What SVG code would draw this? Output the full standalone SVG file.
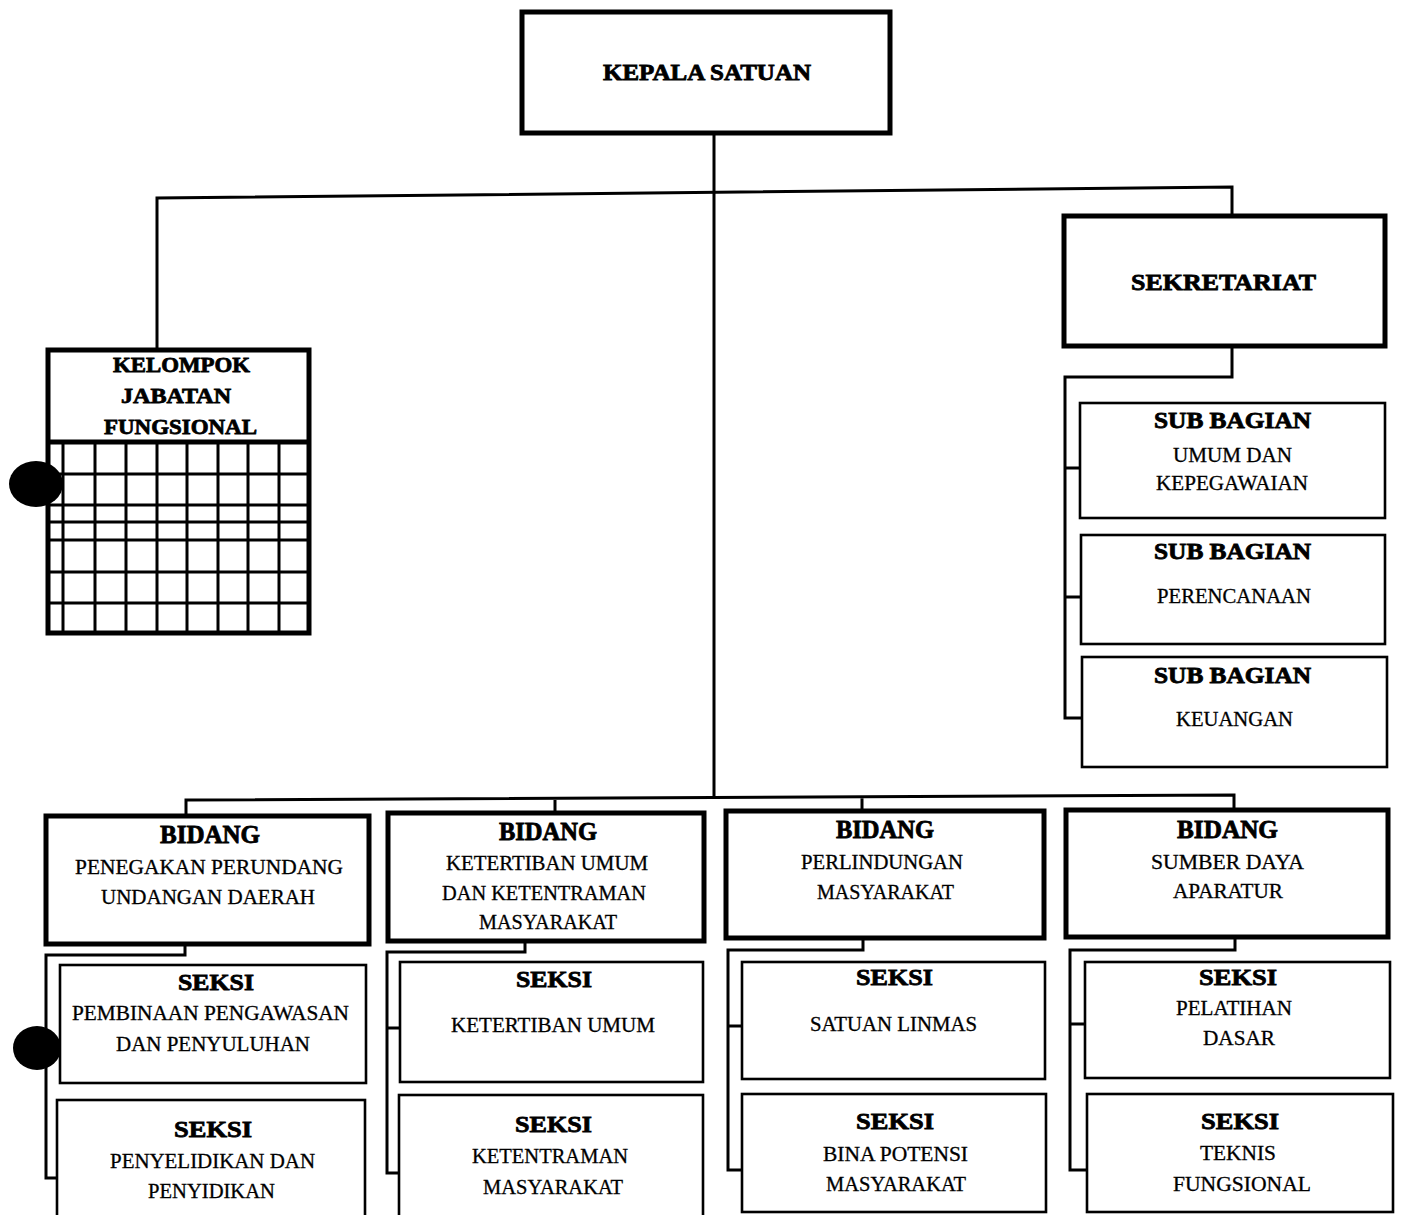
<svg xmlns="http://www.w3.org/2000/svg" width="1401" height="1215" viewBox="0 0 1401 1215">
<style>
.thick{fill:#fff;stroke:#000;stroke-width:5}
.thin{fill:#fff;stroke:#000;stroke-width:2.6}
.ln{fill:none;stroke:#000;stroke-width:3}
.grid{fill:none;stroke:#000;stroke-width:3}
.h{font-family:"Liberation Serif",serif;font-weight:900;fill:#000;stroke:#000;stroke-width:0.8}
.b{font-family:"Liberation Serif",serif;fill:#000;stroke:#000;stroke-width:0.3}
</style>
<rect width="1401" height="1215" fill="#fff"/>
<g id="connectors">
<path class="ln" d="M714 134 V797"/>
<path class="ln" d="M157 349 V198 L1232 187 V216"/>
<path class="ln" d="M1232 346 V377 H1065 V718 H1082 M1065 468 H1080 M1065 597 H1081"/>
<path class="ln" d="M186 817 V800 L1234 795 V810 M555 798 V812 M862 796 V810"/>
<path class="ln" d="M185 945 V955 H46 V1178 H57 M46 1047 H60"/>
<path class="ln" d="M525 942 V952 H387 V1173 H399 M387 1028 H400"/>
<path class="ln" d="M863 938 V950 H728 V1170 H742 M728 1026 H742"/>
<path class="ln" d="M1235 938 V950 H1070 V1170 H1087 M1070 1024 H1085"/>
</g>
<g id="kepala">
<rect class="thick" x="522" y="12" width="368" height="121"/>
<text class="h" x="603" y="80" font-size="23" textLength="208" lengthAdjust="spacingAndGlyphs">KEPALA SATUAN</text>
</g>
<g id="sekretariat">
<rect class="thick" x="1064" y="216" width="321" height="130"/>
<text class="h" x="1131" y="290" font-size="24" textLength="185" lengthAdjust="spacingAndGlyphs">SEKRETARIAT</text>
</g>
<g id="kelompok">
<rect class="thick" x="48" y="350" width="261" height="283"/>
<path d="M48 442 H309" stroke="#000" stroke-width="5"/>
<path class="grid" d="M63 442 V633 M95 442 V633 M126 442 V633 M157 442 V633 M187 442 V633 M218 442 V633 M248 442 V633 M279 442 V633 M48 474 H309 M48 505 H309 M48 522 H309 M48 540 H309 M48 572 H309 M48 603 H309"/>
<text class="h" x="113" y="372" font-size="22" textLength="137" lengthAdjust="spacingAndGlyphs">KELOMPOK</text>
<text class="h" x="121" y="403" font-size="22" textLength="110" lengthAdjust="spacingAndGlyphs">JABATAN</text>
<text class="h" x="104" y="434" font-size="22" textLength="153" lengthAdjust="spacingAndGlyphs">FUNGSIONAL</text>
</g>
<g id="sub-umum">
<rect class="thin" x="1080" y="403" width="305" height="115"/>
<text class="h" x="1154" y="428" font-size="23" textLength="157" lengthAdjust="spacingAndGlyphs">SUB BAGIAN</text>
<text class="b" x="1173" y="462" font-size="20" textLength="119" lengthAdjust="spacingAndGlyphs">UMUM DAN</text>
<text class="b" x="1156" y="490" font-size="20" textLength="152" lengthAdjust="spacingAndGlyphs">KEPEGAWAIAN</text>
</g>
<g id="sub-perencanaan">
<rect class="thin" x="1081" y="535" width="304" height="109"/>
<text class="h" x="1154" y="559" font-size="23" textLength="157" lengthAdjust="spacingAndGlyphs">SUB BAGIAN</text>
<text class="b" x="1157" y="603" font-size="20" textLength="154" lengthAdjust="spacingAndGlyphs">PERENCANAAN</text>
</g>
<g id="sub-keuangan">
<rect class="thin" x="1082" y="657" width="305" height="110"/>
<text class="h" x="1154" y="683" font-size="23" textLength="157" lengthAdjust="spacingAndGlyphs">SUB BAGIAN</text>
<text class="b" x="1176" y="726" font-size="20" textLength="117" lengthAdjust="spacingAndGlyphs">KEUANGAN</text>
</g>
<g id="bidang-1">
<rect class="thick" x="46" y="816" width="323" height="128"/>
<text class="h" x="160" y="843" font-size="25" textLength="100" lengthAdjust="spacingAndGlyphs">BIDANG</text>
<text class="b" x="75" y="874" font-size="20" textLength="268" lengthAdjust="spacingAndGlyphs">PENEGAKAN PERUNDANG</text>
<text class="b" x="101" y="904" font-size="20" textLength="214" lengthAdjust="spacingAndGlyphs">UNDANGAN DAERAH</text>
</g>
<g id="bidang-2">
<rect class="thick" x="388" y="813" width="316" height="128"/>
<text class="h" x="499" y="840" font-size="25" textLength="98" lengthAdjust="spacingAndGlyphs">BIDANG</text>
<text class="b" x="446" y="870" font-size="20" textLength="202" lengthAdjust="spacingAndGlyphs">KETERTIBAN UMUM</text>
<text class="b" x="442" y="900" font-size="20" textLength="204" lengthAdjust="spacingAndGlyphs">DAN KETENTRAMAN</text>
<text class="b" x="479" y="929" font-size="20" textLength="138" lengthAdjust="spacingAndGlyphs">MASYARAKAT</text>
</g>
<g id="bidang-3">
<rect class="thick" x="726" y="811" width="318" height="127"/>
<text class="h" x="836" y="838" font-size="25" textLength="98" lengthAdjust="spacingAndGlyphs">BIDANG</text>
<text class="b" x="801" y="869" font-size="20" textLength="162" lengthAdjust="spacingAndGlyphs">PERLINDUNGAN</text>
<text class="b" x="817" y="899" font-size="20" textLength="137" lengthAdjust="spacingAndGlyphs">MASYARAKAT</text>
</g>
<g id="bidang-4">
<rect class="thick" x="1066" y="810" width="322" height="127"/>
<text class="h" x="1177" y="838" font-size="25" textLength="101" lengthAdjust="spacingAndGlyphs">BIDANG</text>
<text class="b" x="1151" y="869" font-size="20" textLength="153" lengthAdjust="spacingAndGlyphs">SUMBER DAYA</text>
<text class="b" x="1173" y="898" font-size="20" textLength="110" lengthAdjust="spacingAndGlyphs">APARATUR</text>
</g>
<g id="seksi-1-1">
<rect class="thin" x="60" y="965" width="306" height="118"/>
<text class="h" x="178" y="990" font-size="24" textLength="76" lengthAdjust="spacingAndGlyphs">SEKSI</text>
<text class="b" x="72" y="1020" font-size="20" textLength="277" lengthAdjust="spacingAndGlyphs">PEMBINAAN PENGAWASAN</text>
<text class="b" x="116" y="1051" font-size="20" textLength="194" lengthAdjust="spacingAndGlyphs">DAN PENYULUHAN</text>
</g>
<g id="seksi-1-2">
<rect class="thin" x="57" y="1100" width="308" height="125"/>
<text class="h" x="174" y="1137" font-size="24" textLength="78" lengthAdjust="spacingAndGlyphs">SEKSI</text>
<text class="b" x="110" y="1168" font-size="20" textLength="205" lengthAdjust="spacingAndGlyphs">PENYELIDIKAN DAN</text>
<text class="b" x="148" y="1198" font-size="20" textLength="127" lengthAdjust="spacingAndGlyphs">PENYIDIKAN</text>
</g>
<g id="seksi-2-1">
<rect class="thin" x="400" y="962" width="303" height="120"/>
<text class="h" x="516" y="987" font-size="24" textLength="76" lengthAdjust="spacingAndGlyphs">SEKSI</text>
<text class="b" x="451" y="1032" font-size="20" textLength="204" lengthAdjust="spacingAndGlyphs">KETERTIBAN UMUM</text>
</g>
<g id="seksi-2-2">
<rect class="thin" x="399" y="1095" width="304" height="130"/>
<text class="h" x="515" y="1132" font-size="24" textLength="77" lengthAdjust="spacingAndGlyphs">SEKSI</text>
<text class="b" x="472" y="1163" font-size="20" textLength="156" lengthAdjust="spacingAndGlyphs">KETENTRAMAN</text>
<text class="b" x="483" y="1194" font-size="20" textLength="140" lengthAdjust="spacingAndGlyphs">MASYARAKAT</text>
</g>
<g id="seksi-3-1">
<rect class="thin" x="742" y="962" width="303" height="117"/>
<text class="h" x="856" y="985" font-size="24" textLength="77" lengthAdjust="spacingAndGlyphs">SEKSI</text>
<text class="b" x="810" y="1031" font-size="20" textLength="167" lengthAdjust="spacingAndGlyphs">SATUAN LINMAS</text>
</g>
<g id="seksi-3-2">
<rect class="thin" x="742" y="1094" width="304" height="118"/>
<text class="h" x="856" y="1129" font-size="24" textLength="78" lengthAdjust="spacingAndGlyphs">SEKSI</text>
<text class="b" x="823" y="1161" font-size="20" textLength="145" lengthAdjust="spacingAndGlyphs">BINA POTENSI</text>
<text class="b" x="826" y="1191" font-size="20" textLength="140" lengthAdjust="spacingAndGlyphs">MASYARAKAT</text>
</g>
<g id="seksi-4-1">
<rect class="thin" x="1085" y="962" width="305" height="116"/>
<text class="h" x="1199" y="985" font-size="24" textLength="78" lengthAdjust="spacingAndGlyphs">SEKSI</text>
<text class="b" x="1176" y="1015" font-size="20" textLength="116" lengthAdjust="spacingAndGlyphs">PELATIHAN</text>
<text class="b" x="1203" y="1045" font-size="20" textLength="72" lengthAdjust="spacingAndGlyphs">DASAR</text>
</g>
<g id="seksi-4-2">
<rect class="thin" x="1087" y="1094" width="306" height="118"/>
<text class="h" x="1201" y="1129" font-size="24" textLength="78" lengthAdjust="spacingAndGlyphs">SEKSI</text>
<text class="b" x="1200" y="1160" font-size="20" textLength="76" lengthAdjust="spacingAndGlyphs">TEKNIS</text>
<text class="b" x="1173" y="1191" font-size="20" textLength="138" lengthAdjust="spacingAndGlyphs">FUNGSIONAL</text>
</g>
<ellipse cx="36" cy="484" rx="27" ry="23" fill="#000"/>
<ellipse cx="37" cy="1048" rx="24" ry="22" fill="#000"/>
</svg>
